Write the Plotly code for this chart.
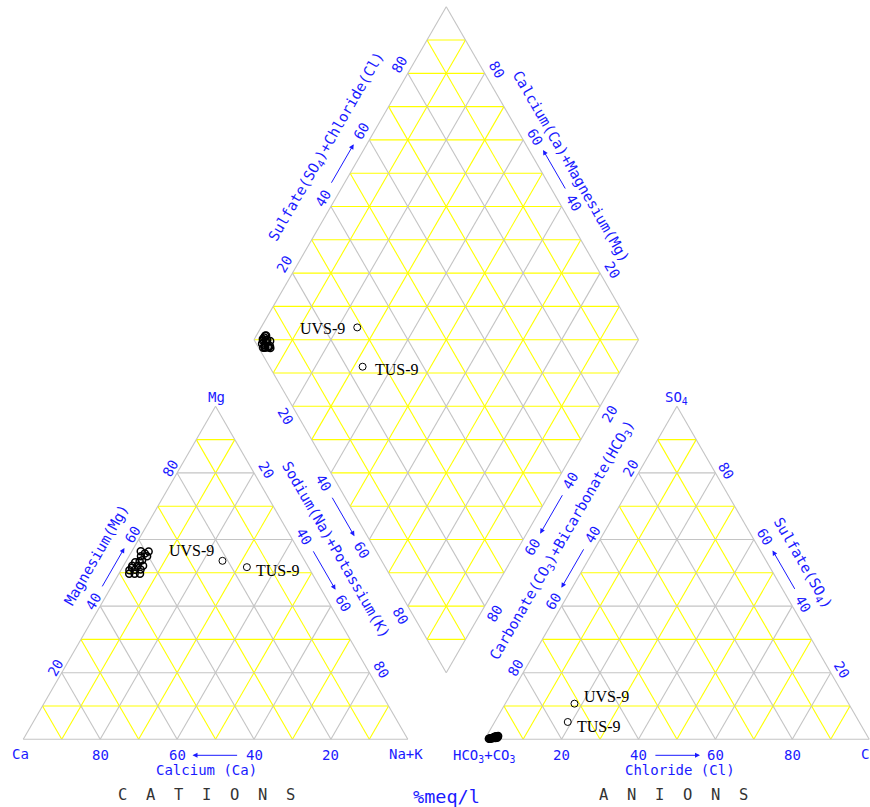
import numpy as np
import plotly.graph_objects as go

# ---------------- data (% meq/l) ----------------
sample_names = ["UVS-9", "TUS-9"] + [""] * 18
ca   = [21.4, 16.0, 41.2, 39.2, 41.9, 40.3, 45.6, 44.2, 42.8, 47.6, 46.2, 44.8, 47.0, 45.5, 44.0, 43.0, 44.3, 42.2, 46.0, 40.5]
mg   = [53.6, 51.7, 56.5, 56.4, 55.0, 55.0, 52.1, 52.1, 52.1, 49.7, 49.7, 49.7, 50.8, 50.9, 51.0, 53.5, 53.2, 53.8, 51.5, 55.8]
nak  = [25.0, 32.3,  2.3,  4.4,  3.1,  4.7,  2.3,  3.7,  5.1,  2.7,  4.1,  5.5,  2.2,  3.6,  5.0,  3.5,  2.5,  4.0,  2.5,  3.7]
hco3 = [71.3, 75.8, 96.5, 96.0, 97.0, 97.5, 97.0, 98.0, 96.8, 98.5, 98.2, 97.0, 97.6, 98.8, 97.3, 96.6, 97.8, 98.4, 96.2, 97.2]
so4  = [10.7,  5.2,  0.5,  1.0,  0.8,  0.5,  0.4,  0.3,  0.7,  0.2,  0.3,  0.5,  0.4,  0.2,  0.6,  0.9,  0.4,  0.3,  0.8,  0.6]
cl   = [18.0, 19.0,  3.0,  3.0,  2.2,  2.0,  2.6,  1.7,  2.5,  1.3,  1.5,  2.5,  2.0,  1.0,  2.1,  2.5,  1.8,  1.3,  3.0,  2.2]

tick_values = [20, 40, 60, 80]
grid_values = [10, 20, 30, 40, 50, 60, 70, 80, 90]

# ---------------- geometry ----------------
S = 3.845          # px per unit
X0_PX, BASE_PX = 23.3, 739.3
W, H = 870, 807
GAP = 20
h = np.sqrt(3) / 2
BLUE = "#1a1aff"
GRAY = "#c4c4c4"
YEL = "#ffff00"


def cat_xy(c, m, n):
    t = c + m + n
    m, n = 100 * m / t, 100 * n / t
    return n + m / 2, m * h


def an_xy(b, s, c):
    t = b + s + c
    s, c = 100 * s / t, 100 * c / t
    return 100 + GAP + c + s / 2, s * h


def dia_xy(cm, sc):
    bx, by = 100 + GAP / 2, GAP / 2 * np.sqrt(3)
    return bx - 0.5 * cm + 0.5 * sc, by + h * (cm + sc)


def px(dx, dy):
    return dx / S, -dy / S


fig = go.Figure()

# ---------------- grid ----------------
seg = {YEL: ([], []), GRAY: ([], [])}


def add(col, p, q):
    seg[col][0].extend([p[0], q[0], None])
    seg[col][1].extend([p[1], q[1], None])


for ox in (0, 100 + GAP):
    for p in grid_values:
        col = GRAY if p % 20 == 0 else YEL
        add(col, (ox + p / 2, p * h), (ox + 100 - p / 2, p * h))
        add(col, (ox + 100 - p, 0), (ox + (100 - p) / 2, (100 - p) * h))
        add(col, (ox + p, 0), (ox + p + (100 - p) / 2, (100 - p) * h))
for p in grid_values:
    col = GRAY if p % 20 == 0 else YEL
    add(col, dia_xy(p, 0), dia_xy(p, 100))
    add(col, dia_xy(0, p), dia_xy(100, p))
for k in range(10, 200, 10):
    if k <= 100:
        add(YEL, dia_xy(k, 0), dia_xy(0, k))
    else:
        add(YEL, dia_xy(100, k - 100), dia_xy(k - 100, 100))
# outlines
for ox in (0, 100 + GAP):
    add(GRAY, (ox, 0), (ox + 100, 0))
    add(GRAY, (ox + 100, 0), (ox + 50, 100 * h))
    add(GRAY, (ox + 50, 100 * h), (ox, 0))
corners = [dia_xy(0, 0), dia_xy(100, 0), dia_xy(100, 100), dia_xy(0, 100), dia_xy(0, 0)]
for a, b in zip(corners[:-1], corners[1:]):
    add(GRAY, a, b)

for col in (YEL, GRAY):
    fig.add_trace(go.Scatter(x=seg[col][0], y=seg[col][1], mode="lines",
                             line=dict(color=col, width=1.1), hoverinfo="skip"))

# ---------------- points ----------------
cx, cy, ax_, ay_, dx_, dy_ = [], [], [], [], [], []
for i in range(len(ca)):
    x, y = cat_xy(ca[i], mg[i], nak[i]); cx.append(x); cy.append(y)
    x, y = an_xy(hco3[i], so4[i], cl[i]); ax_.append(x); ay_.append(y)
    cm = 100 * (ca[i] + mg[i]) / (ca[i] + mg[i] + nak[i])
    sc = 100 * (so4[i] + cl[i]) / (hco3[i] + so4[i] + cl[i])
    x, y = dia_xy(cm, sc); dx_.append(x); dy_.append(y)

named = [i for i, nm in enumerate(sample_names) if nm]
others = [i for i, nm in enumerate(sample_names) if not nm]
for idx, lw in ((others, 1.5), (named, 1)):
    mk = dict(symbol="circle-open", size=7, color="black", line=dict(width=lw, color="black"))
    for xs, ys in ((cx, cy), (ax_, ay_), (dx_, dy_)):
        fig.add_trace(go.Scatter(x=[xs[i] for i in idx], y=[ys[i] for i in idx],
                                 mode="markers", marker=mk, hoverinfo="skip"))

ann = []


def text(x, y, t, off=(0, 0), angle=0, size=14, color=BLUE, family="DejaVu Sans Mono", xanchor="center"):
    ox, oy = px(*off)
    ann.append(dict(x=x + ox, y=y + oy, text=t, showarrow=False, textangle=angle,
                    font=dict(family=family, size=size, color=color),
                    xanchor=xanchor, yanchor="middle"))


# sample labels
lab = {
    "UVS-9": [("c", (-6, -10), "right"), ("a", (7.7, -6.7), "left"), ("d", (-10.7, 1), "right")],
    "TUS-9": [("c", (7, 3), "left"), ("a", (7, 5), "left"), ("d", (10.7, 3), "left")],
}
for i, nm in enumerate(sample_names):
    if nm in lab:
        for which, off, anc in lab[nm]:
            P = {"c": (cx[i], cy[i]), "a": (ax_[i], ay_[i]), "d": (dx_[i], dy_[i])}[which]
            text(P[0], P[1], nm, off, 0, 16, "black", "Liberation Serif", anc)

# ---------------- edges: ticks, arrows, titles ----------------
edges = {
    "LTb": (lambda v: cat_xy(v, 0, 100 - v), (0, 16), 0, None),
    "LTl": (lambda v: cat_xy(100 - v, v, 0), (-6.5, -4.9), -60, (-h, 0.5)),
    "LTr": (lambda v: cat_xy(0, 100 - v, v), (12.3, -3), 60, (h, 0.5)),
    "RTb": (lambda v: an_xy(100 - v, 0, v), (0, 16), 0, None),
    "RTl": (lambda v: an_xy(v, 100 - v, 0), (-7.9, -5), -60, (-h, 0.5)),
    "RTr": (lambda v: an_xy(0, v, 100 - v), (11, -2.4), 60, (h, 0.5)),
    "DLl": (lambda v: dia_xy(100 - v, 0), (-7.2, 10), 60, (-h, -0.5)),
    "DLr": (lambda v: dia_xy(0, 100 - v), (9.3, 7.5), -60, (h, -0.5)),
    "DUl": (lambda v: dia_xy(100, v), (-8, -9), -60, (-h, 0.5)),
    "DUr": (lambda v: dia_xy(v, 100), (12.2, -3.2), 60, (h, 0.5)),
}
for key, (f, off, ang, nrm) in edges.items():
    for v in tick_values:
        x, y = f(v)
        text(x, y, str(v), off, ang)
    ox, oy = px(*off)
    t0, t1 = f(44), f(56)
    ann.append(dict(x=t1[0] + ox, y=t1[1] + oy, ax=t0[0] + ox, ay=t0[1] + oy,
                    axref="x", ayref="y", xref="x", yref="y", text="", showarrow=True,
                    arrowhead=2, arrowsize=1, arrowwidth=1, arrowcolor=BLUE,
                    standoff=0, startstandoff=0))

titles = [
    ("LTl", 51, 28.6, "Magnesium(Mg)"),
    ("LTr", 48, 33, "Sodium(Na)+Potassium(K)"),
    ("RTl", 45, 31.5, "Carbonate(CO<sub>3</sub>)+Bicarbonate(HCO<sub>3</sub>)"),
    ("RTr", 48.4, 29.5, "Sulfate(SO<sub>4</sub>)"),
    ("DUl", 52.9, 33.5, "Sulfate(SO<sub>4</sub>)+Chloride(Cl)"),
    ("DUr", 47.9, 28, "Calcium(Ca)+Magnesium(Mg)"),
]
for key, v, d, t in titles:
    f, off, ang, nrm = edges[key]
    x, y = f(v)
    text(x + nrm[0] * d / S, y + nrm[1] * d / S, t, (0, 0), ang, 14.5)

x, y = edges["LTb"][0](52.3)
text(x, y, "Calcium (Ca)", (0, 30.7))
x, y = edges["RTb"][0](50.8)
text(x, y, "Chloride (Cl)", (0, 30.7))

# corner labels
text(*cat_xy(100, 0, 0), "Ca", (-3.3, 15))
text(*cat_xy(0, 0, 100), "Na+K", (-2, 15))
text(*cat_xy(0, 100, 0), "Mg", (0.5, -9))
text(*an_xy(100, 0, 0), "HCO<sub>3</sub>+CO<sub>3</sub>", (0, 17))
text(*an_xy(0, 0, 100), "Cl", (0, 15))
text(*an_xy(0, 100, 0), "SO<sub>4</sub>", (0, -8))

# footer
x, y = cat_xy(52.4, 0, 47.6)
text(x, y, "C  A  T  I  O  N  S", (0, 56), 0, 15.5, "#333333")
x, y = an_xy(50.8, 0, 49.2)
text(x, y, "A  N  I  O  N  S", (0, 56), 0, 15.5, "#333333")
x, y = dia_xy(0, 0)
text(x, 0, "%meq/l", (0, 57), 0, 18.5)

fig.update_layout(
    width=W, height=H, margin=dict(l=0, r=0, t=0, b=0),
    paper_bgcolor="white", plot_bgcolor="white", showlegend=False,
    xaxis=dict(range=[-X0_PX / S, (W - X0_PX) / S], visible=False, fixedrange=True),
    yaxis=dict(range=[-(H - BASE_PX) / S, BASE_PX / S], visible=False, fixedrange=True),
    annotations=ann,
)
fig.write_html("out.html")
